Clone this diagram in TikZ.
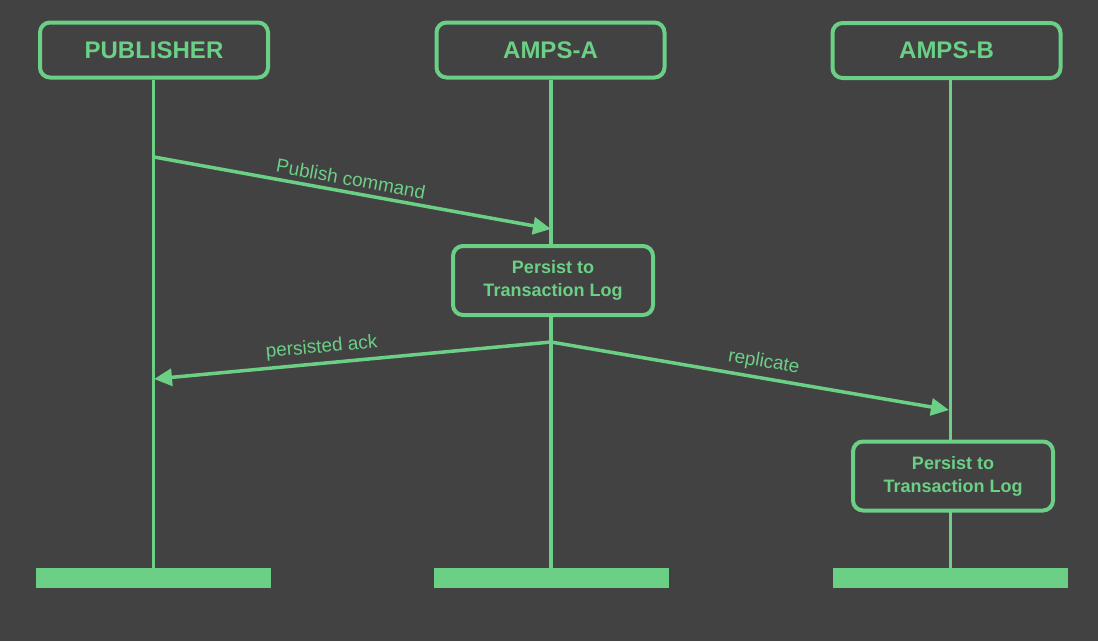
\documentclass[tikz,border=0pt]{standalone}
\usepackage{fontspec}
\setmainfont{Liberation Sans}
\usepackage{tikz}
\usetikzlibrary{arrows.meta}

\definecolor{bgGrey}{RGB}{66,66,66}
\definecolor{ampsGreen}{RGB}{107,208,134}

\tikzset{
    actor/.style={draw=ampsGreen, line width=4pt, rounded corners=10pt,
        minimum width=228pt, minimum height=55pt, inner sep=0pt,
        text=ampsGreen, font=\fontsize{24}{28}\selectfont\bfseries},
    logbox/.style={draw=ampsGreen, fill=bgGrey, line width=4pt, rounded corners=10pt,
        minimum width=200pt, minimum height=69pt, inner sep=0pt, align=center,
        text=ampsGreen, font=\fontsize{18}{23}\selectfont\bfseries},
    endbar/.style={fill=ampsGreen, minimum width=235pt, minimum height=20pt, inner sep=0pt},
    life/.style={draw=ampsGreen, line width=3.5pt},
    msg/.style={draw=ampsGreen, line width=3.5pt, -{Triangle[length=18pt,width=17pt]}},
    msglabel/.style={text=ampsGreen, font=\fontsize{19}{22}\selectfont,
        sloped, above, inner sep=5pt}
}

\begin{document}
\begin{tikzpicture}[x=1pt, y=-1pt]
        \fill[bgGrey] (0,0) rectangle (1098,641);

        \node[actor] (pub) at (154,50) {PUBLISHER};
        \node[actor] (ampsA) at (550.5,50) {AMPS-A};
        \node[actor] (ampsB) at (946.5,50.5) {AMPS-B};

        \node[endbar] (pubEnd) at (153.5,578) {};
        \node[endbar] (ampsAEnd) at (551,578) {};
        \node[endbar] (ampsBEnd) at (950.5,578) {};

        \draw[life] (pubEnd.north |- pub.south) -- (pubEnd.north);
        \draw[life] (ampsAEnd.north |- ampsA.south) -- (ampsAEnd.north);
        \draw[life] (ampsBEnd.north |- ampsB.south) -- (ampsBEnd.north);

        \node[logbox] (logA) at (553,280.5) {Persist to\\Transaction Log};
        \node[logbox] (logB) at (953,476) {Persist to\\Transaction Log};

        \coordinate (pubSend) at (154,157);
        \coordinate (ampsARecv) at (551,229);
        \coordinate (ampsASend) at (551,342);
        \coordinate (pubRecv) at (154,379);
        \coordinate (ampsBRecv) at (949,410);

        \draw[msg] (pubSend) -- (ampsARecv) node[msglabel, pos=.49] {Publish command};
        \draw[msg] (ampsASend) -- (pubRecv) node[msglabel, pos=.574] {persisted ack};
        \draw[msg] (ampsASend) -- (ampsBRecv) node[msglabel, pos=.528] {replicate};
\end{tikzpicture}
\end{document}
